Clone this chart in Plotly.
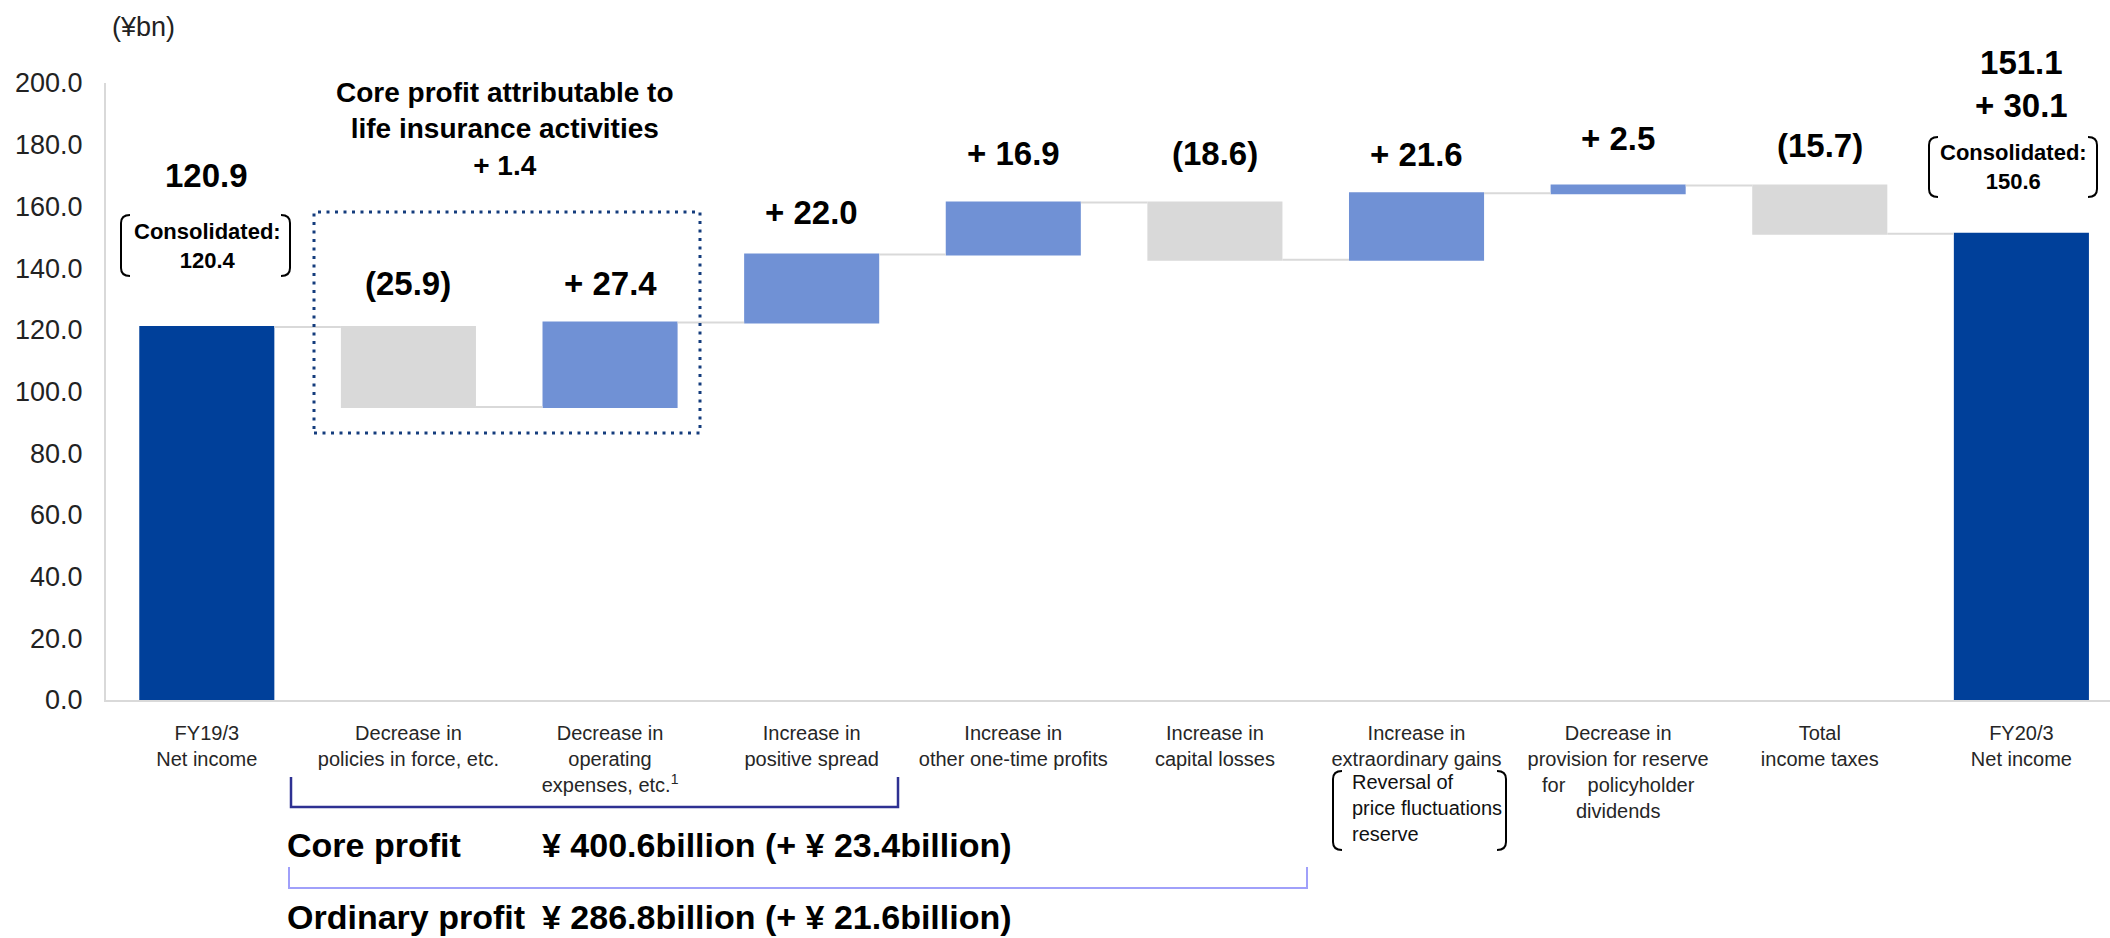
import plotly.graph_objects as go

# ---------------- data ----------------
categories = [
    "FY19/3<br>Net income",
    "Decrease in<br>policies in force, etc.",
    "Decrease in<br>operating<br>expenses, etc.<sup>1</sup>",
    "Increase in<br>positive spread",
    "Increase in<br>other one-time profits",
    "Increase in<br>capital losses",
    "Increase in<br>extraordinary gains",
    "Decrease in<br>provision for reserve<br>for\u00a0\u00a0\u00a0 policyholder<br>dividends",
    "Total<br>income taxes",
    "FY20/3<br>Net income",
]
values = [120.9, -25.9, 27.4, 22.0, 16.9, -18.6, 21.6, 2.5, -15.7, 151.1]
measures = ["absolute"] + ["relative"] * 8 + ["total"]
value_labels = ["120.9", "(25.9)", "+ 27.4", "+ 22.0", "+ 16.9", "(18.6)",
                "+ 21.6", "+ 2.5", "(15.7)", "151.1<br>+ 30.1"]
consolidated_labels = ["Consolidated:<br>120.4", "Consolidated:<br>150.6"]
y_ticks = [0, 20, 40, 60, 80, 100, 120, 140, 160, 180, 200]

# ---------------- style / layout ----------------
W, H = 2110, 938
PL, PR, PT, PB = 106, 2110, 83, 700
FONT = "Liberation Sans, Arial, sans-serif"
C_TOTAL = "#00409A"
C_UP = "#7091D5"
C_DOWN = "#D9D9D9"
C_LINE = "#D9D9D9"


def xp(X):
    return (X - PL) / (PR - PL)


def yp(Y):
    return (PB - Y) / (PB - PT)


x_pos = list(range(len(categories)))
x_max = (PR - 207) / 201.6

fig = go.Figure()
fig.add_trace(go.Waterfall(
    x=x_pos, y=values, measure=measures,
    increasing=dict(marker=dict(color=C_UP)),
    decreasing=dict(marker=dict(color=C_DOWN)),
    totals=dict(marker=dict(color=C_TOTAL)),
    connector=dict(line=dict(color=C_LINE, width=2), mode="between"),
    textinfo="none", hoverinfo="skip",
))

# bar tops for label placement
tops = []
run = 0.0
for v, m in zip(values, measures):
    if m == "absolute":
        start, run = 0.0, v
    elif m == "total":
        start = 0.0
    else:
        start = run
        run = run + v
    tops.append(max(start, run))

label_shift = [152, 44, 39, 42, 49, 49, 39, 47, 40, 150]
annotations = []
for i, (lab, top, sh) in enumerate(zip(value_labels, tops, label_shift)):
    annotations.append(dict(
        x=i, y=top, xref="x", yref="y", text=f"<b>{lab}</b>", showarrow=False,
        xanchor="center", yanchor="middle", yshift=sh,
        font=dict(family=FONT, size=33, color="#000"),
    ))


def note(text, X, Y, size, color="#000", xanchor="center", align="center"):
    return dict(x=xp(X), y=yp(Y), xref="paper", yref="paper", text=text,
                showarrow=False, xanchor=xanchor, yanchor="middle", align=align,
                font=dict(family=FONT, size=size, color=color))


annotations.append(note(f"<b>{consolidated_labels[0]}</b>", 207, 246, 22))
annotations.append(note(f"<b>{consolidated_labels[1]}</b>", 2013, 167, 22))
annotations.append(note("<b>Core profit attributable to<br>life insurance activities<br>+ 1.4</b>",
                        505, 129, 28))
annotations.append(note("(¥bn)", 143, 27, 27, color="#222"))
annotations.append(note("Reversal of<br>price fluctuations<br>reserve", 1350, 808, 20,
                        color="#111", xanchor="left", align="left"))
for txt, X, Y in [("Core profit", 285, 845), ("¥ 400.6billion (+ ¥ 23.4billion)", 540, 845),
                  ("Ordinary profit", 285, 917), ("¥ 286.8billion (+ ¥ 21.6billion)", 540, 917)]:
    annotations.append(note(f"<b>{txt}</b>", X, Y, 34, xanchor="left", align="left"))


def bracket(x0, x1, yt, yb, dx=9, dy=8):
    l = (f"M {xp(x0+dx)},{yp(yt)} Q {xp(x0)},{yp(yt)} {xp(x0)},{yp(yt+dy)} "
         f"L {xp(x0)},{yp(yb-dy)} Q {xp(x0)},{yp(yb)} {xp(x0+dx)},{yp(yb)}")
    r = (f"M {xp(x1-dx)},{yp(yt)} Q {xp(x1)},{yp(yt)} {xp(x1)},{yp(yt+dy)} "
         f"L {xp(x1)},{yp(yb-dy)} Q {xp(x1)},{yp(yb)} {xp(x1-dx)},{yp(yb)}")
    return [dict(type="path", path=p, xref="paper", yref="paper",
                 line=dict(color="#000", width=2)) for p in (l, r)]


shapes = []
shapes += bracket(121, 290, 215, 276)
shapes += bracket(1929, 2097, 137, 197)
shapes += bracket(1333, 1506, 771, 850)
# dotted box
shapes.append(dict(type="rect", xref="paper", yref="paper",
                   x0=xp(314), x1=xp(700), y0=yp(433), y1=yp(212),
                   line=dict(color="#143C7D", width=3, dash="3px,5.5px")))
# core profit bracket
shapes.append(dict(type="path", xref="paper", yref="paper",
                   path=f"M {xp(291)},{yp(777)} L {xp(291)},{yp(807)} L {xp(898)},{yp(807)} L {xp(898)},{yp(777)}",
                   line=dict(color="#2E3192", width=2.5)))
# ordinary profit bracket
shapes.append(dict(type="path", xref="paper", yref="paper",
                   path=f"M {xp(289)},{yp(867)} L {xp(289)},{yp(888)} L {xp(1307)},{yp(888)} L {xp(1307)},{yp(867)}",
                   line=dict(color="#A0A0FA", width=2)))

fig.update_layout(
    width=W, height=H,
    margin=dict(l=PL, r=W - PR, t=PT, b=H - PB),
    plot_bgcolor="white", paper_bgcolor="white",
    showlegend=False, waterfallgap=0.33,
    font=dict(family=FONT),
    annotations=annotations, shapes=shapes,
    xaxis=dict(range=[-0.5, x_max], tickvals=x_pos, ticktext=categories,
               tickfont=dict(family=FONT, size=20, color="#262626"),
               showline=True, linecolor=C_LINE, linewidth=2, ticks="",
               showgrid=False, zeroline=False, ticklabelstandoff=14, fixedrange=True),
    yaxis=dict(range=[0, 200], tickvals=y_ticks, tickformat=".1f",
               tickfont=dict(family=FONT, size=27, color="#222"),
               showline=True, linecolor=C_LINE, linewidth=2, ticks="",
               showgrid=False, zeroline=False, ticklabelstandoff=16, fixedrange=True),
)

fig.write_html(
    "out.html",
    config={"displayModeBar": False},
    post_script="document.body.style.margin='0';document.body.style.overflow='hidden';",
)
